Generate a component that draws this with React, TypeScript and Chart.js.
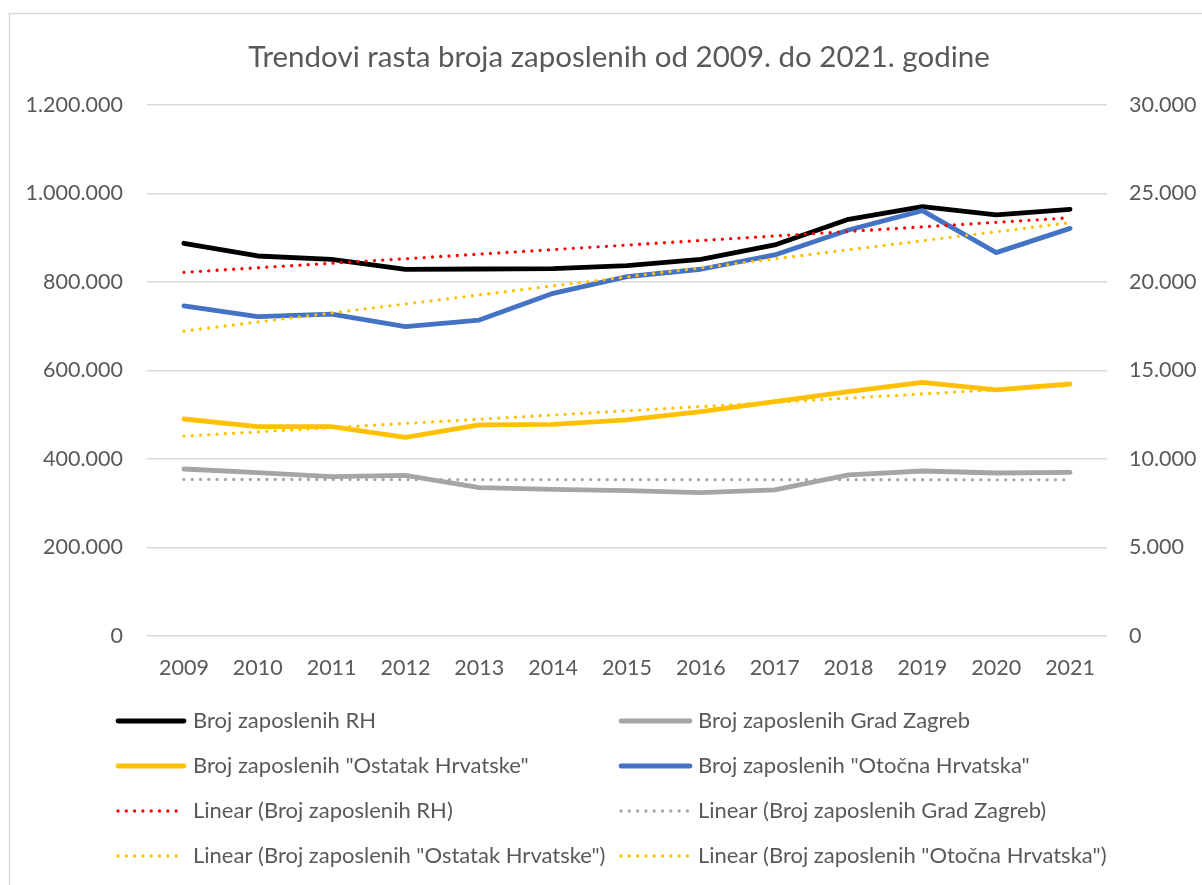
import React, { useEffect, useRef } from 'react';
import { Chart, registerables } from 'chart.js';

Chart.register(...registerables);

const FONT = 'Lato, "Open Sans", sans-serif';
const TEXT_COLOR = '#595959';
const GRID_COLOR = '#d9d9d9';
const FONT_SIZE = 21.5;
const LEGEND_FONT_SIZE = 22;

const TITLE = 'Trendovi rasta broja zaposlenih od 2009. do 2021. godine';

const years = ['2009', '2010', '2011', '2012', '2013', '2014', '2015', '2016', '2017', '2018', '2019', '2020', '2021'];

// primary axis (left)
const zaposleniRH = [887500, 858800, 851300, 828700, 829400, 830100, 837000, 851300, 883700, 941700, 970300, 951500, 964300];
const zaposleniZagreb = [377400, 369100, 360000, 363100, 335200, 331500, 328400, 323900, 330000, 363900, 372900, 368400, 369900];
const zaposleniOstatak = [490400, 473100, 473100, 449000, 476900, 478400, 488200, 507000, 529600, 552200, 573300, 556000, 569500];
// secondary axis (right)
const zaposleniOtocna = [18650, 18040, 18190, 17480, 17850, 19360, 20300, 20720, 21530, 22940, 24030, 21660, 23030];

const leftMax = 1200000;
const leftStep = 200000;
const rightMax = 30000;
const rightStep = 5000;

const labels = {
  rh: 'Broj zaposlenih RH',
  zagreb: 'Broj zaposlenih Grad Zagreb',
  ostatak: 'Broj zaposlenih "Ostatak Hrvatske"',
  otocna: 'Broj zaposlenih "Otočna Hrvatska"',
};

// least-squares linear trendline (as Excel's "Linear" trendline)
function linearTrend(values: number[]): number[] {
  const n = values.length;
  const mx = (n - 1) / 2;
  const my = values.reduce((a, b) => a + b, 0) / n;
  let sxy = 0;
  let sxx = 0;
  values.forEach((v, i) => {
    sxy += (i - mx) * (v - my);
    sxx += (i - mx) * (i - mx);
  });
  const b = sxy / sxx;
  return values.map((_, i) => my + b * (i - mx));
}

function fmt(v: number): string {
  return String(Math.round(v)).replace(/\B(?=(\d{3})+(?!\d))/g, '.');
}

const DOT_DASH = [0, 8.3];

const frameTitlePlugin = {
  id: 'frameTitle',
  beforeDraw(chart: any) {
    const ctx = chart.ctx;
    ctx.save();
    ctx.fillStyle = '#ffffff';
    ctx.fillRect(0, 0, chart.width, chart.height);
    ctx.strokeStyle = GRID_COLOR;
    ctx.lineWidth = 1.5;
    ctx.beginPath();
    ctx.moveTo(9.5, chart.height);
    ctx.lineTo(9.5, 13.5);
    ctx.lineTo(chart.width, 13.5);
    ctx.stroke();
    ctx.font = `100px ${FONT}`;
    const w = ctx.measureText(TITLE).width;
    const size = (100 * 742) / w;
    ctx.font = `${size}px ${FONT}`;
    ctx.fillStyle = TEXT_COLOR;
    ctx.textAlign = 'center';
    ctx.textBaseline = 'alphabetic';
    ctx.fillText(TITLE, 619, 67);
    ctx.restore();
  },
};

const gridLegendPlugin = {
  id: 'gridLegend',
  afterDraw(chart: any) {
    const ctx = chart.ctx;
    const cols = [
      { x0: 118, x1: 184, tx: 193 },
      { x0: 621, x1: 690, tx: 698 },
    ];
    const rowY = [721, 766, 811, 856];
    chart.data.datasets.forEach((ds: any, i: number) => {
      const c = cols[i % 2];
      const y = rowY[Math.floor(i / 2)];
      ctx.save();
      ctx.strokeStyle = ds.borderColor;
      ctx.lineWidth = ds.borderWidth;
      ctx.lineCap = 'round';
      ctx.setLineDash(ds.borderDash || []);
      ctx.beginPath();
      ctx.moveTo(c.x0, y);
      ctx.lineTo(c.x1, y);
      ctx.stroke();
      ctx.setLineDash([]);
      ctx.fillStyle = TEXT_COLOR;
      ctx.font = `${LEGEND_FONT_SIZE}px ${FONT}`;
      ctx.textAlign = 'left';
      ctx.textBaseline = 'middle';
      ctx.fillText(ds.label, c.tx, y);
      ctx.restore();
    });
  },
};

function solid(label: string, data: number[], color: string, axis: string, order: number) {
  return {
    label,
    data,
    borderColor: color,
    backgroundColor: color,
    borderWidth: 4.8,
    borderCapStyle: 'round',
    borderJoinStyle: 'round',
    pointRadius: 0,
    pointHoverRadius: 0,
    tension: 0,
    fill: false,
    yAxisID: axis,
    order,
  };
}

function dotted(label: string, data: number[], color: string, axis: string, order: number) {
  return {
    label,
    data,
    borderColor: color,
    backgroundColor: color,
    borderWidth: 3.3,
    borderDash: DOT_DASH,
    borderCapStyle: 'round',
    pointRadius: 0,
    pointHoverRadius: 0,
    tension: 0,
    fill: false,
    yAxisID: axis,
    order,
  };
}

export default function App() {
  const canvasRef = useRef<HTMLCanvasElement | null>(null);

  useEffect(() => {
    const canvas = canvasRef.current;
    if (!canvas) return;
    Chart.defaults.font.family = FONT;
    const W = 1202;
    const H = 885;
    const chart = new Chart(canvas, {
      type: 'line',
      data: {
        labels: years,
        datasets: [
          solid(labels.rh, zaposleniRH, '#000000', 'yLeft', 8),
          solid(labels.zagreb, zaposleniZagreb, '#a5a5a5', 'yLeft', 7),
          solid(labels.ostatak, zaposleniOstatak, '#ffc000', 'yLeft', 6),
          solid(labels.otocna, zaposleniOtocna, '#4472c4', 'yRight', 5),
          dotted(`Linear (${labels.rh})`, linearTrend(zaposleniRH), '#ff0000', 'yLeft', 4),
          dotted(`Linear (${labels.zagreb})`, linearTrend(zaposleniZagreb), '#a5a5a5', 'yLeft', 3),
          dotted(`Linear (${labels.ostatak})`, linearTrend(zaposleniOstatak), '#ffc000', 'yLeft', 2),
          dotted(`Linear (${labels.otocna})`, linearTrend(zaposleniOtocna), '#ffc000', 'yRight', 1),
        ] as any,
      },
      options: {
        responsive: false,
        animation: false,
        events: [],
        layout: { padding: { left: 0, right: 0, top: 105, bottom: 0 } },
        plugins: {
          legend: { display: false },
          title: { display: false },
          tooltip: { enabled: false },
        },
        scales: {
          x: {
            type: 'category',
            offset: true,
            grid: { display: false, drawTicks: false },
            border: { display: false },
            ticks: { color: TEXT_COLOR, font: { size: FONT_SIZE, family: FONT }, padding: 19, maxRotation: 0, autoSkip: false },
            afterFit(scale: any) {
              scale.height = H - 636;
            },
          },
          yLeft: {
            type: 'linear',
            position: 'left',
            min: 0,
            max: leftMax,
            grid: { color: GRID_COLOR, lineWidth: 1.5, drawTicks: false },
            border: { display: false },
            ticks: {
              stepSize: leftStep,
              color: TEXT_COLOR,
              font: { size: FONT_SIZE, family: FONT },
              padding: 24,
              callback: (v: any) => fmt(Number(v)),
            },
            afterFit(scale: any) {
              scale.width = 147;
            },
          },
          yRight: {
            type: 'linear',
            position: 'right',
            min: 0,
            max: rightMax,
            grid: { display: false, drawOnChartArea: false, drawTicks: false },
            border: { display: false },
            ticks: {
              stepSize: rightStep,
              color: TEXT_COLOR,
              font: { size: FONT_SIZE, family: FONT },
              padding: 22,
              callback: (v: any) => fmt(Number(v)),
            },
            afterFit(scale: any) {
              scale.width = W - 1107;
            },
          },
        },
      } as any,
      plugins: [frameTitlePlugin, gridLegendPlugin],
    });
    return () => chart.destroy();
  }, []);

  return (
    <div style={{ position: 'absolute', left: 0, top: 0, width: 1202, height: 885, background: '#ffffff' }}>
      <canvas ref={canvasRef} width={1202} height={885} style={{ display: 'block', width: 1202, height: 885 }} />
    </div>
  );
}
